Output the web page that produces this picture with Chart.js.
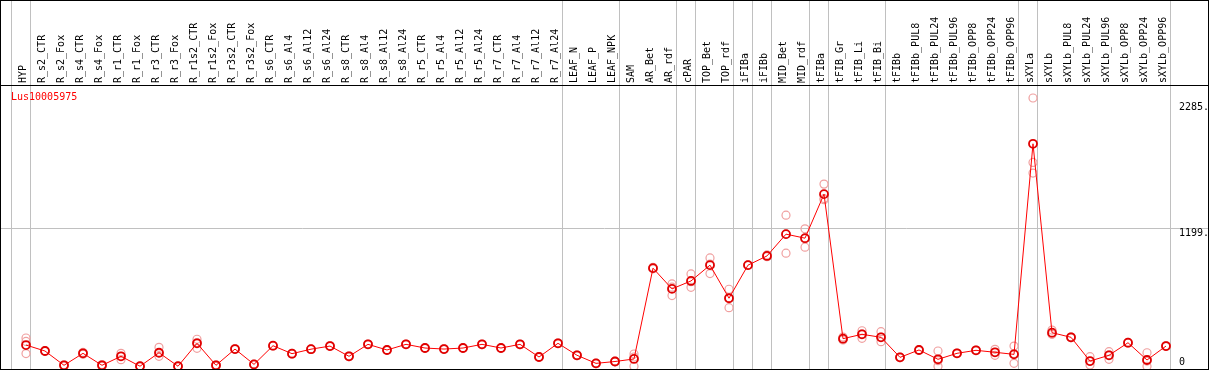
<!DOCTYPE html>
<html>
<head>
<meta charset="utf-8">
<script src="https://cdn.jsdelivr.net/npm/chart.js@4.4.1/dist/chart.umd.min.js"></script>
<style>
body { margin: 0; background: #fff; }
#frame { position: absolute; left: 0; top: 0; width: 1207px; height: 368px; border: 1px solid #000; }
#frame canvas { display: block; }
#gene { position: absolute; left: 10px; top: 90px; color: #ff0000; font: 10px 'DejaVu Sans Mono', monospace; }
</style>
</head>
<body>
<div id="frame">
    <canvas id="chart" width="1207" height="368"></canvas>
    <div id="gene">Lus10005975</div>
</div>
<script>
//sample names, left to right
const categories = ['HYP', 'R_s2_CTR', 'R_s2_Fox', 'R_s4_CTR', 'R_s4_Fox', 'R_r1_CTR', 'R_r1_Fox', 'R_r3_CTR', 'R_r3_Fox',
    'R_r1s2_CTR', 'R_r1s2_Fox', 'R_r3s2_CTR', 'R_r3s2_Fox', 'R_s6_CTR', 'R_s6_Al4', 'R_s6_Al12', 'R_s6_Al24',
    'R_s8_CTR', 'R_s8_Al4', 'R_s8_Al12', 'R_s8_Al24', 'R_r5_CTR', 'R_r5_Al4', 'R_r5_Al12', 'R_r5_Al24',
    'R_r7_CTR', 'R_r7_Al4', 'R_r7_Al12', 'R_r7_Al24', 'LEAF_N', 'LEAF_P', 'LEAF_NPK', 'SAM', 'AR_Bet', 'AR_rdf',
    'cPAR', 'TOP_Bet', 'TOP_rdf', 'iFIBa', 'iFIBb', 'MID_Bet', 'MID_rdf', 'tFIBa', 'tFIB_Gr', 'tFIB_Li', 'tFIB_Bi',
    'tFIBb', 'tFIBb_PUL8', 'tFIBb_PUL24', 'tFIBb_PUL96', 'tFIBb_OPP8', 'tFIBb_OPP24', 'tFIBb_OPP96',
    'sXYLa', 'sXYLb', 'sXYLb_PUL8', 'sXYLb_PUL24', 'sXYLb_PUL96', 'sXYLb_OPP8', 'sXYLb_OPP24', 'sXYLb_OPP96'];

//mean expression per sample (the dark circles joined by the line)
const means = [184, 132, 8, 112, 8, 86, 0, 117, 0, 199, 8, 149, 16, 178, 109, 148, 175, 86, 190, 141, 190, 158, 149, 158,
    190, 158, 190, 80, 199, 95, 25, 41, 63, 851, 671, 740, 877, 590, 877, 957, 1146, 1111, 1493, 239, 277, 251,
    77, 141, 60, 112, 138, 121, 103, 1930, 291, 251, 45, 95, 204, 54, 175];

//the three replicates (light circles)
const rep1 = [245, 135, 12, 120, 14, 112, 0, 164, 0, 234, 12, 152, 18, 180, 112, 150, 178, 90, 193, 144, 192, 160, 152, 160,
    193, 160, 193, 84, 202, 98, 28, 44, 106, 858, 714, 801, 940, 668, 880, 966, 1311, 1192, 1580, 253, 308, 300,
    80, 144, 132, 115, 141, 147, 175, 2327, 314, 254, 83, 126, 207, 117, 178];
const rep2 = [215, 130, 6, 108, 8, 86, 0, 117, 0, 205, 8, 148, 15, 177, 107, 146, 174, 84, 189, 139, 189, 157, 147, 157,
    188, 157, 188, 78, 198, 93, 23, 40, 80, 850, 686, 733, 887, 594, 876, 955, 1146, 1108, 1455, 228, 280, 253,
    75, 139, 48, 110, 136, 121, 110, 1768, 280, 249, 42, 98, 202, 45, 173];
const rep3 = [110, 130, 4, 105, 0, 57, 0, 86, 0, 155, 0, 147, 14, 176, 106, 146, 173, 83, 188, 138, 188, 156, 146, 156,
    187, 156, 187, 77, 197, 92, 22, 39, 0, 845, 613, 685, 804, 508, 875, 950, 981, 1033, 1445, 236, 242, 213,
    74, 138, 0, 111, 137, 95, 25, 1676, 277, 248, 10, 60, 201, 0, 172];

//group separators come right after these sample indexes
const groupEnds = [-1, 0, 28, 31, 34, 35, 37, 38, 39, 41, 42, 45, 52, 53, 60];

//y axis tick values (the zero label sits above its line, the others below)
const yTicks = [1199, 2285];
const yZero = [0];
//only this value gets a horizontal grid line
const yGridValue = 1199;

const xMin = -25 / 19;
const xMax = 60 + 42 / 19;
const yMin = -24;
const yMax = 2440;

const meanPoints = means.map((v, i) => ({x: i, y: v}));
const repPoints = [];
[rep1, rep2, rep3].forEach((rep) => {
    rep.forEach((v, i) => repPoints.push({x: i, y: v}));
});

//no extra room for the end labels, the plot runs edge to edge
const noPadding = (axis) => {
    axis.paddingLeft = 0;
    axis.paddingRight = 0;
    axis.paddingTop = 0;
    axis.paddingBottom = 0;
};

const monoFont = {family: 'DejaVu Sans Mono', size: 10};

//right hand value axis, labels drawn inside the plot, left aligned in a 5 char column
const valueAxis = (values, offset) => ({
    type: 'linear',
    position: 'right',
    min: yMin,
    max: yMax,
    afterBuildTicks: (axis) => {
        axis.ticks = values.map((v) => ({value: v}));
    },
    afterFit: (axis) => {
        axis.width = 0;
        noPadding(axis);
    },
    ticks: {
        mirror: true,
        crossAlign: 'far',
        padding: 1,
        color: '#000',
        font: monoFont,
        labelOffset: offset,
        callback: (v) => (v === 0 ? '0    ' : v + '.'),
    },
    grid: {
        drawTicks: false,
        color: (ctx) => (ctx.tick && ctx.tick.value === yGridValue ? '#c0c0c0' : 'rgba(0,0,0,0)'),
    },
    border: {display: false},
});

new Chart(document.getElementById('chart'), {
    type: 'line',
    data: {
        datasets: [
            {
                data: meanPoints,
                borderColor: '#ff0000',
                borderWidth: 1,
                pointRadius: 4,
                pointBorderColor: '#e00000',
                pointBorderWidth: 1.8,
                pointBackgroundColor: 'rgba(0,0,0,0)',
                tension: 0,
                clip: false,
            },
            {
                data: repPoints,
                showLine: false,
                pointRadius: 4,
                pointBorderColor: '#f0a0a0',
                pointBorderWidth: 1.2,
                pointBackgroundColor: 'rgba(0,0,0,0)',
                clip: false,
            },
        ],
    },
    options: {
        responsive: false,
        animation: false,
        devicePixelRatio: 1,
        layout: {padding: 0, autoPadding: false},
        plugins: {
            legend: {display: false},
            tooltip: {enabled: false},
        },
        scales: {
            x: {
                type: 'linear',
                position: 'top',
                weight: 1,
                min: xMin,
                max: xMax,
                afterBuildTicks: (axis) => {
                    axis.ticks = categories.map((c, i) => ({value: i}));
                },
                afterFit: (axis) => {
                    axis.height = 84;
                    noPadding(axis);
                },
                ticks: {
                    autoSkip: false,
                    minRotation: 90,
                    maxRotation: 90,
                    padding: 2,
                    labelOffset: 9,
                    color: '#000',
                    font: monoFont,
                    callback: (v) => categories[v],
                },
                grid: {display: false, drawTicks: false},
                border: {display: true, color: '#000', width: 1},
            },
            groups: {
                type: 'linear',
                position: 'top',
                weight: 0,
                min: xMin,
                max: xMax,
                afterBuildTicks: (axis) => {
                    axis.ticks = groupEnds.map((g) => ({value: g + 0.25}));
                },
                afterFit: (axis) => {
                    axis.height = 0;
                    noPadding(axis);
                },
                ticks: {display: false},
                grid: {color: '#c0c0c0', lineWidth: 1, drawTicks: true, tickLength: 84},
                border: {display: false},
            },
            y: valueAxis(yTicks, 5),
            yZero: valueAxis(yZero, -4),
        },
    },
});
</script>
</body>
</html>
